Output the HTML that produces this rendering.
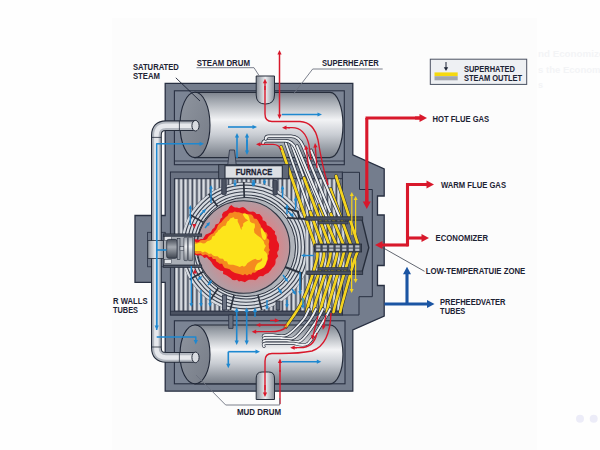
<!DOCTYPE html>
<html><head><meta charset="utf-8"><style>
html,body{margin:0;padding:0;background:#fefefe;}
body{width:600px;height:450px;overflow:hidden;font-family:"Liberation Sans",sans-serif;}
svg{display:block}
</style></head><body>
<svg width="600" height="450" viewBox="0 0 600 450">
<defs>
<linearGradient id="drum" x1="0" y1="0" x2="0" y2="1">
 <stop offset="0" stop-color="#7d838d"/>
 <stop offset="0.1" stop-color="#9aa0a8"/>
 <stop offset="0.42" stop-color="#f2f3f5"/>
 <stop offset="0.65" stop-color="#c9cdd3"/>
 <stop offset="0.9" stop-color="#8e949d"/>
 <stop offset="1" stop-color="#7a808a"/>
</linearGradient>
<linearGradient id="cap" x1="0" y1="0" x2="1" y2="1">
 <stop offset="0" stop-color="#8f959f"/>
 <stop offset="1" stop-color="#767c87"/>
</linearGradient>
<linearGradient id="pipeV" x1="0" y1="0" x2="1" y2="0">
 <stop offset="0" stop-color="#8a909a"/>
 <stop offset="0.5" stop-color="#eceef1"/>
 <stop offset="1" stop-color="#8a909a"/>
</linearGradient>
<linearGradient id="pipeH" x1="0" y1="0" x2="0" y2="1">
 <stop offset="0" stop-color="#9ca2ab"/>
 <stop offset="0.4" stop-color="#eef0f2"/>
 <stop offset="1" stop-color="#80868f"/>
</linearGradient>
<linearGradient id="stripe" x1="0" y1="0" x2="1" y2="0">
 <stop offset="0" stop-color="#b9bec6"/>
 <stop offset="0.5" stop-color="#e4e7eb"/>
 <stop offset="1" stop-color="#b9bec6"/>
</linearGradient>
<radialGradient id="glow" cx="0.55" cy="0.5" r="0.5">
 <stop offset="0" stop-color="#f04a48"/>
 <stop offset="0.6" stop-color="#d8868a"/>
 <stop offset="1" stop-color="#b39ca3"/>
</radialGradient>
<linearGradient id="dcyl" x1="0" y1="0" x2="0" y2="1">
 <stop offset="0" stop-color="#4a505b"/>
 <stop offset="0.4" stop-color="#a4a9b1"/>
 <stop offset="1" stop-color="#3f4550"/>
</linearGradient>
<pattern id="stp" x="175" y="0" width="4.5" height="10" patternUnits="userSpaceOnUse">
 <rect x="0" y="0" width="4.5" height="10" fill="#464d5c"/>
 <rect x="0.2" y="0" width="2.9" height="10" fill="url(#stripe)"/>
</pattern>
<clipPath id="chamber"><rect x="174.4" y="178.7" width="168" height="132.5"/></clipPath>
<clipPath id="fan"><rect x="174.4" y="150" width="198" height="200"/></clipPath>
</defs>
<rect x="112" y="18" width="425" height="432" fill="#fcfcfc"/>
<path d="M165.2,83.3 L352.8,83.3 L352.8,154.8 L384.2,168.8 L384.2,196 L377.5,196 L377.5,215 L384.2,215 L384.2,265.5 L377.5,265.5 L377.5,285.5 L384.2,285.5 L384.2,316.2 L352.8,330 L352.8,391.2 L165.2,391.2 L165.2,282.3 L135,282.3 L135,215.5 L165.2,215.5 Z" fill="#747d8d" stroke="#283042" stroke-width="1.3"/>
<rect x="174.4" y="90.8" width="169.9" height="73.9" fill="#7b8494" stroke="#283042" stroke-width="1.1"/>
<rect x="174.4" y="320.8" width="170.6" height="63" fill="#7b8494" stroke="#283042" stroke-width="1.1"/>
<rect x="147.6" y="232.3" width="17.6" height="34.5" fill="#6e7787" stroke="#283042" stroke-width="0.8"/>
<rect x="170.4" y="172" width="172" height="143" fill="#6a7282" stroke="#283042" stroke-width="1"/>
<path d="M342.4,172.3 L359.5,172.3 L359.5,189.5 L372.3,189.5 L372.3,296.7 L359,296.7 L359,315 L342.4,315 Z" fill="#737c8d" stroke="#283042" stroke-width="1"/>
<rect x="174.4" y="178.7" width="168" height="132.5" fill="url(#stp)" stroke="#283042" stroke-width="1"/>
<rect x="170.4" y="311.2" width="172" height="3.8" fill="#4a5161" stroke="#283042" stroke-width="0.8"/>
<g clip-path="url(#chamber)"><circle cx="246" cy="247" r="65" fill="#3a414f"/><circle cx="246" cy="247" r="63.5" fill="none" stroke="#d6dae0" stroke-width="2.2"/><circle cx="246" cy="247" r="60.2" fill="none" stroke="#d6dae0" stroke-width="2.2"/><circle cx="246" cy="247" r="56.9" fill="none" stroke="#d6dae0" stroke-width="2.2"/><circle cx="246" cy="247" r="53.6" fill="none" stroke="#d6dae0" stroke-width="2.2"/><circle cx="246" cy="247" r="50.3" fill="none" stroke="#d6dae0" stroke-width="2.2"/></g>
<line x1="244.4" y1="200.0" x2="243.7" y2="182.0" stroke="#2a303c" stroke-width="1.7"/>
<line x1="219.0" y1="208.5" x2="208.7" y2="193.8" stroke="#2a303c" stroke-width="1.7"/>
<line x1="234.6" y1="292.6" x2="230.3" y2="310.1" stroke="#2a303c" stroke-width="1.7"/>
<line x1="257.4" y1="292.6" x2="261.7" y2="310.1" stroke="#2a303c" stroke-width="1.7"/>
<line x1="219.7" y1="286.0" x2="209.7" y2="300.9" stroke="#2a303c" stroke-width="1.7"/>
<line x1="205.3" y1="223.5" x2="189.7" y2="214.5" stroke="#2a303c" stroke-width="1.7"/>
<line x1="205.3" y1="270.5" x2="189.7" y2="279.5" stroke="#2a303c" stroke-width="1.7"/>
<circle cx="246" cy="247" r="49.6" fill="#b0b4bb" stroke="#2f3542" stroke-width="1"/>
<circle cx="243.5" cy="247" r="46.3" fill="url(#glow)" stroke="#2f3542" stroke-width="1.1"/>
<rect x="221.7" y="178" width="4.6" height="16.5" rx="1.5" fill="#4b5261" stroke="#283042" stroke-width="0.8"/>
<rect x="222.5" y="295" width="4" height="15" fill="#6b7282" stroke="#283042" stroke-width="0.8"/>
<rect x="273" y="180" width="4.2" height="15" rx="1.5" fill="#4b5261" stroke="#283042" stroke-width="0.8"/>
<path d="M192.1,241.2 L194.1,239.3 L196.3,239.2 L198.6,240.0 L200.8,239.1 L202.9,238.9 L204.3,236.7 L205.7,234.5 L208.4,233.6 L210.9,232.2 L212.2,229.5 L214.5,227.5 L215.5,224.5 L218.6,223.6 L219.9,221.0 L220.4,218.7 L222.4,217.2 L222.0,214.4 L223.6,211.9 L226.5,210.7 L228.2,209.3 L229.2,207.1 L231.3,204.9 L233.0,206.6 L234.9,207.5 L237.0,207.6 L239.1,208.2 L241.0,207.6 L243.0,206.9 L245.1,208.2 L246.8,210.0 L248.9,211.4 L250.9,211.7 L253.0,211.6 L254.9,212.2 L256.5,214.0 L259.5,213.9 L261.3,215.9 L262.5,217.8 L262.6,220.2 L264.8,221.0 L266.3,222.6 L266.9,225.2 L268.9,226.1 L271.2,227.6 L272.8,229.6 L275.1,231.6 L274.8,234.0 L276.4,235.7 L276.8,237.8 L276.8,240.0 L277.8,241.9 L278.8,243.8 L279.1,245.8 L278.8,248.0 L278.7,250.1 L277.2,251.9 L277.3,253.9 L278.2,256.3 L276.7,258.0 L275.5,259.8 L275.6,262.1 L275.2,264.3 L273.9,266.3 L272.1,268.0 L271.0,270.1 L269.5,271.4 L268.3,273.1 L266.3,273.8 L264.6,274.8 L263.1,276.2 L260.7,276.0 L258.7,276.7 L257.2,278.9 L255.2,280.2 L253.1,279.8 L251.0,279.8 L248.9,279.7 L247.0,280.8 L244.9,282.3 L242.9,281.6 L241.0,280.9 L238.9,281.4 L237.0,279.8 L234.9,280.2 L232.5,280.1 L230.8,278.3 L229.0,277.1 L227.2,275.8 L225.3,274.7 L223.1,273.9 L223.1,270.9 L220.5,270.7 L218.5,269.4 L216.4,268.2 L214.4,266.5 L212.7,264.6 L211.5,262.2 L209.8,260.3 L208.2,259.0 L206.9,257.3 L204.2,257.9 L202.9,256.4 L200.9,255.2 L198.6,255.6 L196.4,255.2 L194.2,254.6 L192.1,254.4 L191.7,252.1 L191.5,249.8 L191.6,247.5 L191.9,245.2 L192.8,242.9Z" fill="#e8141f"/>
<path d="M191.9,241.0 L194.1,240.8 L196.5,242.4 L198.7,242.1 L200.6,240.2 L202.8,240.1 L205.0,240.0 L207.1,239.1 L208.1,237.1 L209.6,235.6 L211.2,234.2 L213.3,233.3 L214.4,231.4 L215.9,229.9 L216.9,227.9 L217.8,225.6 L219.2,223.7 L221.3,222.2 L222.8,220.3 L224.4,218.5 L225.9,217.1 L227.6,215.8 L228.6,213.7 L230.0,212.8 L232.3,212.7 L234.7,211.5 L237.0,212.3 L239.0,212.3 L241.0,213.0 L243.0,213.4 L244.6,212.7 L246.5,214.1 L248.8,214.3 L251.3,214.4 L253.0,216.0 L253.9,218.4 L256.7,219.0 L258.2,220.9 L259.1,222.9 L260.4,224.8 L261.1,226.9 L262.8,228.8 L263.8,231.5 L266.6,232.7 L267.6,235.1 L266.9,238.1 L269.2,240.0 L269.2,242.0 L268.7,244.0 L268.9,246.0 L268.9,248.0 L269.9,250.1 L268.6,251.9 L268.9,254.1 L267.5,255.9 L268.2,258.1 L267.8,260.2 L265.8,262.1 L264.9,264.6 L264.3,267.4 L262.3,268.3 L260.3,269.2 L258.2,269.9 L256.7,271.3 L255.0,272.8 L252.6,272.4 L251.2,274.7 L249.1,274.1 L247.0,275.4 L245.0,273.9 L243.0,275.2 L241.0,274.6 L239.1,274.0 L237.1,273.4 L235.0,272.9 L233.1,272.1 L231.5,270.9 L229.6,269.3 L227.2,268.5 L224.7,267.9 L223.1,265.9 L222.2,263.7 L219.6,263.8 L218.1,262.5 L216.3,261.6 L215.5,259.0 L212.9,259.1 L211.6,256.8 L209.0,256.9 L207.2,255.1 L205.1,254.6 L202.6,255.5 L200.8,253.4 L198.5,253.8 L196.2,254.1 L194.3,252.3 L193.0,252.8 L191.6,250.6 L192.6,248.3 L191.9,246.1 L193.4,243.8Z" fill="#f58a1f"/>
<path d="M192.2,244.5 L194.3,243.6 L196.5,243.7 L198.5,242.9 L200.7,242.6 L203.0,243.4 L205.1,243.2 L207.2,241.2 L209.7,240.6 L211.5,239.2 L212.3,236.5 L214.9,235.6 L215.5,233.4 L217.4,232.1 L218.3,230.2 L219.8,229.5 L221.3,227.7 L223.1,226.2 L225.9,225.4 L226.5,223.2 L227.6,221.3 L228.8,220.7 L230.2,218.4 L232.4,217.7 L233.2,217.1 L234.8,219.1 L237.7,219.1 L237.7,221.6 L238.8,223.8 L239.8,226.1 L240.5,228.3 L241.9,229.9 L241.6,227.6 L243.1,225.9 L243.2,223.6 L245.1,222.1 L247.6,220.7 L248.7,220.3 L250.3,221.7 L251.9,223.1 L254.5,223.5 L254.9,224.8 L254.9,227.2 L253.9,229.5 L254.4,232.8 L256.3,234.5 L258.1,235.9 L260.4,237.6 L262.2,239.3 L263.8,241.4 L264.4,243.9 L265.9,245.9 L264.7,247.9 L264.0,250.0 L263.9,252.6 L263.8,253.8 L263.3,256.3 L261.9,257.9 L260.4,259.4 L259.1,260.1 L257.1,260.1 L255.3,258.8 L252.8,259.8 L250.7,261.1 L248.7,262.3 L247.3,263.3 L245.9,265.6 L244.0,266.7 L242.2,265.8 L239.7,267.0 L237.4,266.0 L235.6,265.4 L233.2,264.8 L230.5,264.8 L228.1,264.2 L227.1,261.5 L224.4,261.1 L223.0,258.8 L219.8,258.4 L217.6,256.2 L215.1,256.2 L213.0,255.4 L211.1,253.4 L208.9,254.1 L207.0,252.4 L204.9,251.6 L202.7,252.4 L200.7,250.9 L198.6,250.9 L196.4,251.1 L194.2,251.1 L193.7,251.6 L193.9,249.4 L192.3,247.3 L193.4,245.2Z" fill="#fde51b"/>
<path d="M261.0,250.0 C261.8,249.0 266.2,251.7 267.0,254.0 C267.8,256.3 267.0,261.5 266.0,264.0 C265.0,266.5 262.8,268.0 261.0,269.0 C259.2,270.0 255.7,270.8 255.0,270.0 C254.3,269.2 255.8,265.7 257.0,264.0 C258.2,262.3 261.3,262.3 262.0,260.0 C262.7,257.7 260.2,251.0 261.0,250.0Z" fill="#fde51b"/>
<path d="M243.0,214.0 C243.5,213.5 246.8,213.7 248.0,215.0 C249.2,216.3 250.1,221.2 250.0,222.0 C249.9,222.8 248.2,220.7 247.4,220.0 C246.6,219.3 245.7,219.0 245.0,218.0 C244.3,217.0 242.5,214.5 243.0,214.0Z" fill="#fde51b"/>
<path d="M261.0,228.0 C261.7,227.7 265.3,233.0 266.0,235.0 C266.7,237.0 265.7,239.7 265.0,240.0 C264.3,240.3 262.7,239.0 262.0,237.0 C261.3,235.0 260.3,228.3 261.0,228.0Z" fill="#fde51b"/>
<rect x="163.3" y="233.9" width="38.4" height="2.4" fill="#4f5665" stroke="#262d3b" stroke-width="0.7"/>
<rect x="163.3" y="265" width="38.4" height="2.6" fill="#4f5665" stroke="#262d3b" stroke-width="0.7"/>
<rect x="163.3" y="236.2" width="31" height="28.8" fill="#a9aeb6" stroke="#262d3b" stroke-width="0.8"/>
<rect x="164.4" y="236.6" width="7.3" height="4" fill="#e3e6ea" stroke="#262d3b" stroke-width="0.5"/>
<rect x="164.4" y="259.4" width="7.3" height="4" fill="#e3e6ea" stroke="#262d3b" stroke-width="0.5"/>
<rect x="166.7" y="239.4" width="10.5" height="18.9" rx="2" fill="url(#dcyl)" stroke="#262d3b" stroke-width="0.8"/>
<rect x="177.2" y="238.5" width="2.8" height="21" fill="#9aa0aa" stroke="#262d3b" stroke-width="0.6"/>
<rect x="180" y="246.7" width="4" height="4" fill="#c9cdd3" stroke="#262d3b" stroke-width="0.5"/>
<rect x="183.9" y="237.2" width="3.8" height="23.4" rx="1" fill="url(#pipeH)" stroke="#262d3b" stroke-width="0.6"/>
<rect x="188.2" y="237.2" width="4.6" height="23.4" rx="1" fill="url(#pipeH)" stroke="#262d3b" stroke-width="0.6"/>
<path d="M195,92.3 L330,92.3 A13,32.65 0 0 1 330,157.6 L195,157.6 Z" fill="url(#drum)" stroke="#262d3b" stroke-width="1.2"/>
<ellipse cx="195" cy="124.94999999999999" rx="15" ry="32.65" fill="url(#cap)" stroke="#1f2636" stroke-width="1.1"/>
<path d="M195,325 L330,325 A13,29.400000000000006 0 0 1 330,383.8 L195,383.8 Z" fill="url(#drum)" stroke="#262d3b" stroke-width="1.2"/>
<ellipse cx="195" cy="354.4" rx="15" ry="29.400000000000006" fill="url(#cap)" stroke="#1f2636" stroke-width="1.1"/>
<path d="M256.2,76 L274.5,76 L274.5,95 Q274.5,104 265.35,104 Q256.2,104 256.2,95 Z" fill="url(#pipeV)" stroke="#262d3b" stroke-width="1"/>
<path d="M256.2,378 Q256.2,372 262,372 L268.7,372 Q274.5,372 274.5,378 L274.5,399.5 L256.2,399.5 Z" fill="url(#pipeV)" stroke="#262d3b" stroke-width="1"/>
<path d="M228.7,315 L233,315 L233,328.4 L228.7,328.4 Z" fill="#6a7282" stroke="#283042" stroke-width="0.8"/>
<line x1="174.4" y1="161" x2="344.3" y2="161" stroke="#283042" stroke-width="0.9"/>
<path d="M227.7,165.5 L229.5,150 L234.5,150 L236.3,165.5 Z" fill="#7d8391" stroke="#283042" stroke-width="0.8"/>
<path d="M305.7,218.3 L361.7,218.3 L368.8,247.7 L361.7,273.4 L305.7,273.4 Z" fill="#626a7a"/>
<rect x="305.7" y="218.3" width="40" height="55" fill="url(#stp)"/>
<g><path d="M281,147 L316.0,248" stroke="#262d3b" stroke-width="3.8" fill="none" stroke-linejoin="round" stroke-linecap="round"/><path d="M281,147 L316.0,248" stroke="#f4d31f" stroke-width="2.7" fill="none" stroke-linejoin="round" stroke-linecap="round"/></g>
<g><path d="M285.7,143 L310.3,212.0" stroke="#262d3b" stroke-width="3.4" fill="none" stroke-linejoin="round" stroke-linecap="round"/><path d="M285.7,143 L310.3,212.0" stroke="#eceef1" stroke-width="2.0" fill="none" stroke-linejoin="round" stroke-linecap="round"/></g>
<g><path d="M310.3,212.0 L323.2,248" stroke="#262d3b" stroke-width="3.8" fill="none" stroke-linejoin="round" stroke-linecap="round"/><path d="M310.3,212.0 L323.2,248" stroke="#f4d31f" stroke-width="2.7" fill="none" stroke-linejoin="round" stroke-linecap="round"/></g>
<g><path d="M291,143 L304.1,178.0" stroke="#262d3b" stroke-width="3.4" fill="none" stroke-linejoin="round" stroke-linecap="round"/><path d="M291,143 L304.1,178.0" stroke="#eceef1" stroke-width="2.0" fill="none" stroke-linejoin="round" stroke-linecap="round"/></g>
<g><path d="M304.1,178.0 L330.4,248" stroke="#262d3b" stroke-width="3.8" fill="none" stroke-linejoin="round" stroke-linecap="round"/><path d="M304.1,178.0 L330.4,248" stroke="#f4d31f" stroke-width="2.7" fill="none" stroke-linejoin="round" stroke-linecap="round"/></g>
<g><path d="M263,143.5 Q263,140.7 266,140.7 L285,140.7 Q292,140.7 296,149 L319.5,205.0" stroke="#262d3b" stroke-width="3.4" fill="none" stroke-linejoin="round" stroke-linecap="round"/><path d="M263,143.5 Q263,140.7 266,140.7 L285,140.7 Q292,140.7 296,149 L319.5,205.0" stroke="#eceef1" stroke-width="2.0" fill="none" stroke-linejoin="round" stroke-linecap="round"/></g>
<g><path d="M319.5,205.0 L337.6,248" stroke="#262d3b" stroke-width="3.8" fill="none" stroke-linejoin="round" stroke-linecap="round"/><path d="M319.5,205.0 L337.6,248" stroke="#f4d31f" stroke-width="2.7" fill="none" stroke-linejoin="round" stroke-linecap="round"/></g>
<g><path d="M265.7,139 Q265.7,136.3 268.7,136.3 L291,136.3 Q299,136.3 303,146 L330.9,214.0" stroke="#262d3b" stroke-width="3.4" fill="none" stroke-linejoin="round" stroke-linecap="round"/><path d="M265.7,139 Q265.7,136.3 268.7,136.3 L291,136.3 Q299,136.3 303,146 L330.9,214.0" stroke="#eceef1" stroke-width="2.0" fill="none" stroke-linejoin="round" stroke-linecap="round"/></g>
<g><path d="M330.9,214.0 L344.8,248" stroke="#262d3b" stroke-width="3.8" fill="none" stroke-linejoin="round" stroke-linecap="round"/><path d="M330.9,214.0 L344.8,248" stroke="#f4d31f" stroke-width="2.7" fill="none" stroke-linejoin="round" stroke-linecap="round"/></g>
<g><path d="M330.5,189 L352.0,248" stroke="#262d3b" stroke-width="3.8" fill="none" stroke-linejoin="round" stroke-linecap="round"/><path d="M330.5,189 L352.0,248" stroke="#f4d31f" stroke-width="2.7" fill="none" stroke-linejoin="round" stroke-linecap="round"/></g>
<g><path d="M336,176 L359.2,248" stroke="#262d3b" stroke-width="3.8" fill="none" stroke-linejoin="round" stroke-linecap="round"/><path d="M336,176 L359.2,248" stroke="#f4d31f" stroke-width="2.7" fill="none" stroke-linejoin="round" stroke-linecap="round"/></g>
<g><path d="M297,146 L327,218" stroke="#262d3b" stroke-width="3.4" fill="none" stroke-linejoin="round" stroke-linecap="round"/><path d="M297,146 L327,218" stroke="#eceef1" stroke-width="2.0" fill="none" stroke-linejoin="round" stroke-linecap="round"/></g>
<g><path d="M311,150.3 L340,218" stroke="#262d3b" stroke-width="3.4" fill="none" stroke-linejoin="round" stroke-linecap="round"/><path d="M311,150.3 L340,218" stroke="#eceef1" stroke-width="2.0" fill="none" stroke-linejoin="round" stroke-linecap="round"/></g>
<g><path d="M316.0,248.0 C316.1,250.0 318.9,251.3 316.7,260.0 C314.5,268.7 308.2,288.8 303.0,300.0 C297.8,311.2 288.6,322.5 285.7,327.0" stroke="#262d3b" stroke-width="3.8" fill="none" stroke-linejoin="round" stroke-linecap="round"/><path d="M316.0,248.0 C316.1,250.0 318.9,251.3 316.7,260.0 C314.5,268.7 308.2,288.8 303.0,300.0 C297.8,311.2 288.6,322.5 285.7,327.0" stroke="#f4d31f" stroke-width="2.7" fill="none" stroke-linejoin="round" stroke-linecap="round"/></g>
<g><path d="M323.2,248.0 C323.2,250.0 325.2,251.3 323.0,260.0 C320.8,268.7 312.4,291.3 309.7,300.0 C307.0,308.7 307.2,310.0 306.7,312.0" stroke="#262d3b" stroke-width="3.8" fill="none" stroke-linejoin="round" stroke-linecap="round"/><path d="M323.2,248.0 C323.2,250.0 325.2,251.3 323.0,260.0 C320.8,268.7 312.4,291.3 309.7,300.0 C307.0,308.7 307.2,310.0 306.7,312.0" stroke="#f4d31f" stroke-width="2.7" fill="none" stroke-linejoin="round" stroke-linecap="round"/></g>
<g><path d="M330.4,248.0 C330.2,250.0 331.6,251.3 329.3,260.0 C327.0,268.7 319.0,291.3 316.4,300.0 C313.8,308.7 313.9,310.0 313.4,312.0" stroke="#262d3b" stroke-width="3.8" fill="none" stroke-linejoin="round" stroke-linecap="round"/><path d="M330.4,248.0 C330.2,250.0 331.6,251.3 329.3,260.0 C327.0,268.7 319.0,291.3 316.4,300.0 C313.8,308.7 313.9,310.0 313.4,312.0" stroke="#f4d31f" stroke-width="2.7" fill="none" stroke-linejoin="round" stroke-linecap="round"/></g>
<g><path d="M337.6,248.0 C337.3,250.0 338.0,251.3 335.6,260.0 C333.2,268.7 325.7,291.3 323.1,300.0 C320.5,308.7 320.6,310.0 320.1,312.0" stroke="#262d3b" stroke-width="3.8" fill="none" stroke-linejoin="round" stroke-linecap="round"/><path d="M337.6,248.0 C337.3,250.0 338.0,251.3 335.6,260.0 C333.2,268.7 325.7,291.3 323.1,300.0 C320.5,308.7 320.6,310.0 320.1,312.0" stroke="#f4d31f" stroke-width="2.7" fill="none" stroke-linejoin="round" stroke-linecap="round"/></g>
<g><path d="M344.8,248.0 C344.3,250.0 344.4,251.3 341.9,260.0 C339.4,268.7 332.3,291.3 329.8,300.0 C327.3,308.7 327.3,310.0 326.8,312.0" stroke="#262d3b" stroke-width="3.8" fill="none" stroke-linejoin="round" stroke-linecap="round"/><path d="M344.8,248.0 C344.3,250.0 344.4,251.3 341.9,260.0 C339.4,268.7 332.3,291.3 329.8,300.0 C327.3,308.7 327.3,310.0 326.8,312.0" stroke="#f4d31f" stroke-width="2.7" fill="none" stroke-linejoin="round" stroke-linecap="round"/></g>
<g><path d="M352.0,248.0 C351.4,250.0 350.8,251.3 348.2,260.0 C345.6,268.7 338.9,291.3 336.5,300.0 C334.1,308.7 334.0,310.0 333.5,312.0" stroke="#262d3b" stroke-width="3.8" fill="none" stroke-linejoin="round" stroke-linecap="round"/><path d="M352.0,248.0 C351.4,250.0 350.8,251.3 348.2,260.0 C345.6,268.7 338.9,291.3 336.5,300.0 C334.1,308.7 334.0,310.0 333.5,312.0" stroke="#f4d31f" stroke-width="2.7" fill="none" stroke-linejoin="round" stroke-linecap="round"/></g>
<g><path d="M359.2,248.0 C358.4,250.0 357.2,251.3 354.5,260.0 C351.8,268.7 345.6,291.3 343.2,300.0 C340.8,308.7 340.7,310.0 340.2,312.0" stroke="#262d3b" stroke-width="3.8" fill="none" stroke-linejoin="round" stroke-linecap="round"/><path d="M359.2,248.0 C358.4,250.0 357.2,251.3 354.5,260.0 C351.8,268.7 345.6,291.3 343.2,300.0 C340.8,308.7 340.7,310.0 340.2,312.0" stroke="#f4d31f" stroke-width="2.7" fill="none" stroke-linejoin="round" stroke-linecap="round"/></g>
<g><path d="M309.0,309.0 C308.0,310.8 306.7,315.7 303.0,320.0 C299.3,324.3 292.0,332.5 287.0,335.0 C282.0,337.5 275.3,335.0 273.0,335.0 L266,335.0 Q262,335.0 264,338.0" stroke="#262d3b" stroke-width="3.2" fill="none" stroke-linejoin="round" stroke-linecap="round"/><path d="M309.0,309.0 C308.0,310.8 306.7,315.7 303.0,320.0 C299.3,324.3 292.0,332.5 287.0,335.0 C282.0,337.5 275.3,335.0 273.0,335.0 L266,335.0 Q262,335.0 264,338.0" stroke="#eceef1" stroke-width="1.9" fill="none" stroke-linejoin="round" stroke-linecap="round"/></g>
<g><path d="M316.0,309.0 C315.0,310.8 313.7,315.2 310.0,320.0 C306.3,324.8 299.0,334.8 294.0,337.8 C289.0,340.8 282.3,337.8 280.0,337.8 L266,337.8 Q262,337.8 264,340.8" stroke="#262d3b" stroke-width="3.2" fill="none" stroke-linejoin="round" stroke-linecap="round"/><path d="M316.0,309.0 C315.0,310.8 313.7,315.2 310.0,320.0 C306.3,324.8 299.0,334.8 294.0,337.8 C289.0,340.8 282.3,337.8 280.0,337.8 L266,337.8 Q262,337.8 264,340.8" stroke="#eceef1" stroke-width="1.9" fill="none" stroke-linejoin="round" stroke-linecap="round"/></g>
<g><path d="M323.0,309.0 C322.0,310.8 320.7,314.7 317.0,320.0 C313.3,325.3 306.0,337.2 301.0,340.6 C296.0,344.0 289.3,340.6 287.0,340.6 L266,340.6 Q262,340.6 264,343.6" stroke="#262d3b" stroke-width="3.2" fill="none" stroke-linejoin="round" stroke-linecap="round"/><path d="M323.0,309.0 C322.0,310.8 320.7,314.7 317.0,320.0 C313.3,325.3 306.0,337.2 301.0,340.6 C296.0,344.0 289.3,340.6 287.0,340.6 L266,340.6 Q262,340.6 264,343.6" stroke="#eceef1" stroke-width="1.9" fill="none" stroke-linejoin="round" stroke-linecap="round"/></g>
<g><path d="M330.0,309.0 C329.0,310.8 327.7,314.3 324.0,320.0 C320.3,325.7 313.0,339.5 308.0,343.4 C303.0,347.3 296.3,343.4 294.0,343.4 L266,343.4 Q262,343.4 264,346.4" stroke="#262d3b" stroke-width="3.2" fill="none" stroke-linejoin="round" stroke-linecap="round"/><path d="M330.0,309.0 C329.0,310.8 327.7,314.3 324.0,320.0 C320.3,325.7 313.0,339.5 308.0,343.4 C303.0,347.3 296.3,343.4 294.0,343.4 L266,343.4 Q262,343.4 264,346.4" stroke="#eceef1" stroke-width="1.9" fill="none" stroke-linejoin="round" stroke-linecap="round"/></g>
<path d="M361.7,218.3 L368.8,247.7 L361.7,273.4" fill="none" stroke="#262d3b" stroke-width="1.4"/>
<rect x="305.7" y="216.8" width="57" height="3.4" fill="#4a5161" stroke="#262d3b" stroke-width="0.8"/>
<rect x="318" y="221.3" width="30" height="2.6" fill="#4a5161" stroke="#262d3b" stroke-width="0.6"/>
<rect x="306.7" y="271" width="56" height="3.4" fill="#4a5161" stroke="#262d3b" stroke-width="0.8"/>
<rect x="318" y="267.5" width="30" height="2.6" fill="#4a5161" stroke="#262d3b" stroke-width="0.6"/>
<rect x="314.6" y="244" width="47" height="8" fill="#3e4553" stroke="#262d3b" stroke-width="0.8"/>
<rect x="316.2" y="245.3" width="4.2" height="2.3" fill="#b9bec6"/>
<rect x="316.2" y="248.6" width="4.2" height="2.3" fill="#b9bec6"/>
<rect x="322.7" y="245.3" width="4.2" height="2.3" fill="#b9bec6"/>
<rect x="322.7" y="248.6" width="4.2" height="2.3" fill="#b9bec6"/>
<rect x="329.2" y="245.3" width="4.2" height="2.3" fill="#b9bec6"/>
<rect x="329.2" y="248.6" width="4.2" height="2.3" fill="#b9bec6"/>
<rect x="335.7" y="245.3" width="4.2" height="2.3" fill="#b9bec6"/>
<rect x="335.7" y="248.6" width="4.2" height="2.3" fill="#b9bec6"/>
<rect x="342.2" y="245.3" width="4.2" height="2.3" fill="#b9bec6"/>
<rect x="342.2" y="248.6" width="4.2" height="2.3" fill="#b9bec6"/>
<rect x="348.7" y="245.3" width="4.2" height="2.3" fill="#b9bec6"/>
<rect x="348.7" y="248.6" width="4.2" height="2.3" fill="#b9bec6"/>
<rect x="355.2" y="245.3" width="4.2" height="2.3" fill="#b9bec6"/>
<rect x="355.2" y="248.6" width="4.2" height="2.3" fill="#b9bec6"/>
<path d="M196,125.7 L166,125.7 Q156.4,125.7 156.4,135.3 L156.4,347.8 Q156.4,357.4 166,357.4 L196,357.4" fill="none" stroke="#262d3b" stroke-width="10.8"/>
<path d="M196,125.7 L166,125.7 Q156.4,125.7 156.4,135.3 L156.4,347.8 Q156.4,357.4 166,357.4 L196,357.4" fill="none" stroke="#b3b8c0" stroke-width="8.6"/>
<path d="M196,125.7 L166,125.7 Q156.4,125.7 156.4,135.3 L156.4,347.8 Q156.4,357.4 166,357.4 L196,357.4" fill="none" stroke="#e6e8ec" stroke-width="4.5"/>
<path d="M156.4,135.3 L156.4,347.8" fill="none" stroke="url(#pipeV)" stroke-width="8.6"/>
<line x1="151.5" y1="137.4" x2="161.3" y2="137.4" stroke="#262d3b" stroke-width="0.8"/>
<line x1="179.4" y1="121" x2="179.4" y2="130.4" stroke="#262d3b" stroke-width="0.8"/>
<line x1="179.4" y1="352.8" x2="179.4" y2="362.1" stroke="#262d3b" stroke-width="0.8"/>
<line x1="151.5" y1="347" x2="161.3" y2="347" stroke="#262d3b" stroke-width="0.8"/>
<ellipse cx="195.5" cy="125.7" rx="3.6" ry="5.3" fill="#d8dbe0" stroke="#262d3b" stroke-width="1"/>
<ellipse cx="195.5" cy="357.4" rx="3.6" ry="5.3" fill="#d8dbe0" stroke="#262d3b" stroke-width="1"/>
<rect x="147.8" y="240.6" width="15.6" height="17.8" fill="url(#pipeV)" stroke="#262d3b" stroke-width="0.8"/>
<path d="M279.5,115.4 L279.5,53.6" fill="none" stroke="#d8182b" stroke-width="1.5" stroke-linejoin="round"/>
<path d="M279.5,50.0 L281.6,54.5 L277.4,54.5 Z" fill="#d8182b"/>
<path d="M279.5,119.0 L277.4,114.5 L281.6,114.5 Z" fill="#d8182b"/>
<path d="M328,185 Q322,165 318,140 Q314,122 300,121.5 L272,121.5 Q265,121.5 265,114 L265,86" fill="none" stroke="#d8182b" stroke-width="1.4"/>
<path d="M265.0,90.0 L265.0,82.3" fill="none" stroke="#d8182b" stroke-width="1.4" stroke-linejoin="round"/>
<path d="M265.0,78.7 L267.1,83.2 L262.9,83.2 Z" fill="#d8182b"/>
<path d="M311,160 L309,145 Q305,127.7 292,127.7 L288,127.7" fill="none" stroke="#d8182b" stroke-width="1.3"/>
<path d="M290.0,127.7 L285.6,127.7" fill="none" stroke="#d8182b" stroke-width="1.4" stroke-linejoin="round"/>
<path d="M282.0,127.7 L286.5,125.6 L286.5,129.8 Z" fill="#d8182b"/>
<path d="M309.0,170.0 L306.2,148.6" fill="none" stroke="#d8182b" stroke-width="1.3" stroke-linejoin="round"/>
<path d="M305.7,145.0 L308.4,149.2 L304.2,149.7 Z" fill="#d8182b"/>
<path d="M317.0,168.0 L315.3,146.6" fill="none" stroke="#d8182b" stroke-width="1.3" stroke-linejoin="round"/>
<path d="M315.0,143.0 L317.5,147.3 L313.3,147.7 Z" fill="#d8182b"/>
<path d="M281,150 Q279,144.3 273,144.3 L262,144.3" fill="none" stroke="#d8182b" stroke-width="1.3"/>
<path d="M262.0,144.3 L259.6,144.3" fill="none" stroke="#d8182b" stroke-width="1.4" stroke-linejoin="round"/>
<path d="M256.0,144.3 L260.5,142.2 L260.5,146.4 Z" fill="#d8182b"/>
<path d="M331,313 Q330,345 312,351 Q300,353.5 280,353.5 L272,353.5 Q265,353.5 265,361 L265,390" fill="none" stroke="#d8182b" stroke-width="1.4"/>
<path d="M265.0,385.0 L265.0,393.4" fill="none" stroke="#d8182b" stroke-width="1.4" stroke-linejoin="round"/>
<path d="M265.0,397.0 L262.9,392.5 L267.1,392.5 Z" fill="#d8182b"/>
<path d="M280,404 L280,370" fill="none" stroke="#d8182b" stroke-width="1.4"/>
<path d="M280.0,372.0 L280.0,362.1" fill="none" stroke="#d8182b" stroke-width="1.5" stroke-linejoin="round"/>
<path d="M280.0,358.5 L282.1,363.0 L277.9,363.0 Z" fill="#d8182b"/>
<path d="M317,333 Q314,347.7 300,347.7 L295,347.7" fill="none" stroke="#d8182b" stroke-width="1.3"/>
<path d="M297.0,347.7 L293.8,347.7" fill="none" stroke="#d8182b" stroke-width="1.4" stroke-linejoin="round"/>
<path d="M290.2,347.7 L294.7,345.6 L294.7,349.8 Z" fill="#d8182b"/>
<path d="M318.0,316.0 L312.9,336.4" fill="none" stroke="#d8182b" stroke-width="1.3" stroke-linejoin="round"/>
<path d="M312.0,339.9 L311.1,335.0 L315.1,336.0 Z" fill="#d8182b"/>
<path d="M326.0,315.0 L323.6,326.3" fill="none" stroke="#d8182b" stroke-width="1.3" stroke-linejoin="round"/>
<path d="M322.9,329.8 L321.8,325.0 L325.9,325.8 Z" fill="#d8182b"/>
<path d="M270.0,320.4 L275.7,320.4" fill="none" stroke="#d8182b" stroke-width="1.3" stroke-linejoin="round"/>
<path d="M279.3,320.4 L274.8,322.5 L274.8,318.3 Z" fill="#d8182b"/>
<path d="M286.7,325.0 L259.4,325.0" fill="none" stroke="#d8182b" stroke-width="1.3" stroke-linejoin="round"/>
<path d="M255.8,325.0 L260.3,322.9 L260.3,327.1 Z" fill="#d8182b"/>
<path d="M286.7,326.7 Q282,331.7 270,331.7 L258,331.7" fill="none" stroke="#d8182b" stroke-width="1.3"/>
<path d="M258.0,331.7 L255.3,331.7" fill="none" stroke="#d8182b" stroke-width="1.3" stroke-linejoin="round"/>
<path d="M251.7,331.7 L256.2,329.6 L256.2,333.8 Z" fill="#d8182b"/>
<path d="M366.8,118 L366.8,202" fill="none" stroke="#d8182b" stroke-width="3.1"/>
<path d="M366.8,190.0 L366.8,203.0" fill="none" stroke="#d8182b" stroke-width="3.1" stroke-linejoin="round"/>
<path d="M366.8,209.0 L362.8,201.5 L370.8,201.5 Z" fill="#d8182b"/>
<path d="M365.5,118 L420,118" fill="none" stroke="#d8182b" stroke-width="3.1"/>
<path d="M415.0,118.0 L421.0,118.0" fill="none" stroke="#d8182b" stroke-width="3.1" stroke-linejoin="round"/>
<path d="M427.0,118.0 L419.5,122.0 L419.5,114.0 Z" fill="#d8182b"/>
<path d="M407.5,246.3 L407.5,184.5 L428,184.5" fill="none" stroke="#d8182b" stroke-width="3.1"/>
<path d="M425.0,184.5 L428.0,184.5" fill="none" stroke="#d8182b" stroke-width="3.1" stroke-linejoin="round"/>
<path d="M434.0,184.5 L426.5,188.5 L426.5,180.5 Z" fill="#d8182b"/>
<path d="M407.0,238.0 L423.0,238.0" fill="none" stroke="#d8182b" stroke-width="3.1" stroke-linejoin="round"/>
<path d="M429.0,238.0 L421.5,242.0 L421.5,234.0 Z" fill="#d8182b"/>
<path d="M408.5,245.0 L381.0,245.0" fill="none" stroke="#d8182b" stroke-width="3.1" stroke-linejoin="round"/>
<path d="M375.0,245.0 L382.5,241.0 L382.5,249.0 Z" fill="#d8182b"/>
<path d="M384.5,304.0 L428.5,304.0" fill="none" stroke="#1b55a3" stroke-width="3.1" stroke-linejoin="round"/>
<path d="M434.5,304.0 L427.0,308.0 L427.0,300.0 Z" fill="#1b55a3"/>
<path d="M407.0,304.0 L407.0,272.7" fill="none" stroke="#1b55a3" stroke-width="3.1" stroke-linejoin="round"/>
<path d="M407.0,266.7 L411.0,274.2 L403.0,274.2 Z" fill="#1b55a3"/>
<path d="M282.0,114.5 L318.4,114.5" fill="none" stroke="#1e88d0" stroke-width="1.6" stroke-linejoin="round"/>
<path d="M322.0,114.5 L317.5,116.6 L317.5,112.4 Z" fill="#1e88d0"/>
<path d="M228.0,127.0 L253.4,127.0" fill="none" stroke="#1e88d0" stroke-width="1.6" stroke-linejoin="round"/>
<path d="M257.0,127.0 L252.5,129.1 L252.5,124.9 Z" fill="#1e88d0"/>
<path d="M237.0,158.0 L237.0,136.6" fill="none" stroke="#1e88d0" stroke-width="1.6" stroke-linejoin="round"/>
<path d="M237.0,133.0 L239.1,137.5 L234.9,137.5 Z" fill="#1e88d0"/>
<path d="M247.0,152.0 L247.0,136.6" fill="none" stroke="#1e88d0" stroke-width="1.6" stroke-linejoin="round"/>
<path d="M247.0,133.0 L249.1,137.5 L244.9,137.5 Z" fill="#1e88d0"/>
<path d="M247.0,140.0 L247.0,151.4" fill="none" stroke="#1e88d0" stroke-width="1.6" stroke-linejoin="round"/>
<path d="M247.0,155.0 L244.9,150.5 L249.1,150.5 Z" fill="#1e88d0"/>
<path d="M156.7,330.0 L156.7,143.8 L200.4,143.8" fill="none" stroke="#1e88d0" stroke-width="1.5" stroke-linejoin="round"/>
<path d="M204.0,143.8 L199.5,145.9 L199.5,141.7 Z" fill="#1e88d0"/>
<path d="M156.7,200.0 L156.7,326.4" fill="none" stroke="#1e88d0" stroke-width="1.5" stroke-linejoin="round"/>
<path d="M156.7,330.0 L154.6,325.5 L158.8,325.5 Z" fill="#1e88d0"/>
<path d="M156.7,337.0 L195.8,337.0 L195.8,341.0" fill="none" stroke="#1e88d0" stroke-width="1.5" stroke-linejoin="round"/>
<path d="M195.8,344.6 L193.7,340.1 L197.9,340.1 Z" fill="#1e88d0"/>
<path d="M156.7,250 L166.5,250" fill="none" stroke="#1e88d0" stroke-width="1.6"/>
<path d="M236.7,326.0 L236.7,311.1" fill="none" stroke="#1e88d0" stroke-width="1.6" stroke-linejoin="round"/>
<path d="M236.7,307.5 L238.8,312.0 L234.6,312.0 Z" fill="#1e88d0"/>
<path d="M236.7,326.0 L236.7,341.4" fill="none" stroke="#1e88d0" stroke-width="1.6" stroke-linejoin="round"/>
<path d="M236.7,345.0 L234.6,340.5 L238.8,340.5 Z" fill="#1e88d0"/>
<path d="M246.7,326.0 L246.7,311.1" fill="none" stroke="#1e88d0" stroke-width="1.6" stroke-linejoin="round"/>
<path d="M246.7,307.5 L248.8,312.0 L244.6,312.0 Z" fill="#1e88d0"/>
<path d="M246.7,326.0 L246.7,341.4" fill="none" stroke="#1e88d0" stroke-width="1.6" stroke-linejoin="round"/>
<path d="M246.7,345.0 L244.6,340.5 L248.8,340.5 Z" fill="#1e88d0"/>
<path d="M255.0,317.0 L255.0,311.1" fill="none" stroke="#1e88d0" stroke-width="1.4" stroke-linejoin="round"/>
<path d="M255.0,307.5 L257.1,312.0 L252.9,312.0 Z" fill="#1e88d0"/>
<path d="M228.3,351.7 L256.4,351.7" fill="none" stroke="#1e88d0" stroke-width="1.6" stroke-linejoin="round"/>
<path d="M260.0,351.7 L255.5,353.8 L255.5,349.6 Z" fill="#1e88d0"/>
<path d="M228.3,351.7 L228.3,364.7" fill="none" stroke="#1e88d0" stroke-width="1.6" stroke-linejoin="round"/>
<path d="M228.3,368.3 L226.2,363.8 L230.4,363.8 Z" fill="#1e88d0"/>
<path d="M281.7,361.7 L317.7,361.7" fill="none" stroke="#1e88d0" stroke-width="1.6" stroke-linejoin="round"/>
<path d="M321.3,361.7 L316.8,363.8 L316.8,359.6 Z" fill="#1e88d0"/>
<path d="M191.3,266.0 L191.3,304.0" fill="none" stroke="#1e88d0" stroke-width="1.4" stroke-linejoin="round"/>
<path d="M191.3,307.0 L189.5,303.2 L193.1,303.2 Z" fill="#1e88d0"/>
<path d="M201.0,290.0 L201.0,304.0" fill="none" stroke="#1e88d0" stroke-width="1.4" stroke-linejoin="round"/>
<path d="M201.0,307.0 L199.2,303.2 L202.8,303.2 Z" fill="#1e88d0"/>
<path d="M210.0,290.0 L210.0,304.0" fill="none" stroke="#1e88d0" stroke-width="1.4" stroke-linejoin="round"/>
<path d="M210.0,307.0 L208.2,303.2 L211.8,303.2 Z" fill="#1e88d0"/>
<path d="M211.0,203.0 L211.0,188.0" fill="none" stroke="#1e88d0" stroke-width="1.4" stroke-linejoin="round"/>
<path d="M211.0,185.0 L212.8,188.8 L209.2,188.8 Z" fill="#1e88d0"/>
<path d="M190.3,225.0 L190.3,208.0" fill="none" stroke="#1e88d0" stroke-width="1.4" stroke-linejoin="round"/>
<path d="M190.3,205.0 L192.1,208.8 L188.5,208.8 Z" fill="#1e88d0"/>
<path d="M235.0,180.0 L235.0,184.0" fill="none" stroke="#1e88d0" stroke-width="1.4" stroke-linejoin="round"/>
<path d="M235.0,187.0 L233.2,183.2 L236.8,183.2 Z" fill="#1e88d0"/>
<path d="M253.0,180.0 L253.0,184.0" fill="none" stroke="#1e88d0" stroke-width="1.4" stroke-linejoin="round"/>
<path d="M253.0,187.0 L251.2,183.2 L254.8,183.2 Z" fill="#1e88d0"/>
<path d="M254.0,180.0 L254.0,183.5" fill="none" stroke="#1e88d0" stroke-width="1.4" stroke-linejoin="round"/>
<path d="M254.0,186.5 L252.2,182.7 L255.8,182.7 Z" fill="#1e88d0"/>
<path d="M200.0,215.0 L203.9,211.1" fill="none" stroke="#1e88d0" stroke-width="1.4" stroke-linejoin="round"/>
<path d="M206.0,209.0 L204.6,213.0 L202.0,210.4 Z" fill="#1e88d0"/>
<path d="M205.0,228.0 L208.1,224.3" fill="none" stroke="#1e88d0" stroke-width="1.4" stroke-linejoin="round"/>
<path d="M210.0,222.0 L209.0,226.1 L206.2,223.8 Z" fill="#1e88d0"/>
<path d="M198.0,280.0 L199.9,278.1" fill="none" stroke="#1e88d0" stroke-width="1.4" stroke-linejoin="round"/>
<path d="M202.0,276.0 L200.6,280.0 L198.0,277.4 Z" fill="#1e88d0"/>
<path d="M208.0,285.0 L210.1,282.4" fill="none" stroke="#1e88d0" stroke-width="1.4" stroke-linejoin="round"/>
<path d="M212.0,280.0 L211.0,284.1 L208.2,281.8 Z" fill="#1e88d0"/>
<path d="M314.0,255.5 L304.0,255.5" fill="none" stroke="#1e88d0" stroke-width="1.4" stroke-linejoin="round"/>
<path d="M301.0,255.5 L304.8,253.7 L304.8,257.3 Z" fill="#1e88d0"/>
<path d="M303.0,298.0 L303.0,306.0" fill="none" stroke="#1e88d0" stroke-width="1.4" stroke-linejoin="round"/>
<path d="M303.0,309.0 L301.2,305.2 L304.8,305.2 Z" fill="#1e88d0"/>
<path d="M194.9,269 L192.8,273.5 L197,273.5 Z" fill="#d8182b"/>
<path d="M194.3,228.5 L192.2,224 L196.4,224 Z" fill="#d8182b"/>
<path d="M285,267 L301,273 L300.5,290" fill="none" stroke="#2a303c" stroke-width="2"/>
<path d="M284.4,207.9 L298,211.6 L299.3,219" fill="none" stroke="#2a303c" stroke-width="2"/>
<path d="M286.9,217.8 L305.5,219" fill="none" stroke="#2a303c" stroke-width="1.8"/>
<rect x="276" y="301" width="4" height="9" fill="#5a6272" stroke="#2a303c" stroke-width="0.8"/>
<path d="M300.0,272.0 L300.0,292.0" fill="none" stroke="#1e88d0" stroke-width="1.4" stroke-linejoin="round"/>
<path d="M300.0,295.0 L298.2,291.2 L301.8,291.2 Z" fill="#1e88d0"/>
<path d="M283.0,275.0 L286.2,279.5" fill="none" stroke="#1e88d0" stroke-width="1.4" stroke-linejoin="round"/>
<path d="M288.0,282.0 L284.3,280.0 L287.3,277.9 Z" fill="#1e88d0"/>
<path d="M278.0,288.0 L280.3,291.5" fill="none" stroke="#1e88d0" stroke-width="1.4" stroke-linejoin="round"/>
<path d="M282.0,294.0 L278.4,291.8 L281.4,289.8 Z" fill="#1e88d0"/>
<path d="M292.0,289.0 L294.3,292.5" fill="none" stroke="#1e88d0" stroke-width="1.4" stroke-linejoin="round"/>
<path d="M296.0,295.0 L292.4,292.8 L295.4,290.8 Z" fill="#1e88d0"/>
<path d="M267.0,300.0 L267.0,307.0" fill="none" stroke="#1e88d0" stroke-width="1.4" stroke-linejoin="round"/>
<path d="M267.0,310.0 L265.2,306.2 L268.8,306.2 Z" fill="#1e88d0"/>
<path d="M287.0,300.0 L287.0,305.0" fill="none" stroke="#1e88d0" stroke-width="1.4" stroke-linejoin="round"/>
<path d="M287.0,308.0 L285.2,304.2 L288.8,304.2 Z" fill="#1e88d0"/>
<path d="M282.5,198.0 L282.5,188.5" fill="none" stroke="#1e88d0" stroke-width="1.4" stroke-linejoin="round"/>
<path d="M282.5,185.5 L284.3,189.3 L280.7,189.3 Z" fill="#1e88d0"/>
<path d="M287.0,214.0 L287.0,207.0" fill="none" stroke="#1e88d0" stroke-width="1.4" stroke-linejoin="round"/>
<path d="M287.0,204.0 L288.8,207.8 L285.2,207.8 Z" fill="#1e88d0"/>
<path d="M295.6,210.0 L295.6,199.7" fill="none" stroke="#1e88d0" stroke-width="1.4" stroke-linejoin="round"/>
<path d="M295.6,196.7 L297.4,200.5 L293.8,200.5 Z" fill="#1e88d0"/>
<path d="M264.5,178.5 L264.5,182.0" fill="none" stroke="#1e88d0" stroke-width="1.4" stroke-linejoin="round"/>
<path d="M264.5,185.0 L262.7,181.2 L266.3,181.2 Z" fill="#1e88d0"/>
<path d="M289.0,212.0 L291.9,214.9" fill="none" stroke="#1e88d0" stroke-width="1.4" stroke-linejoin="round"/>
<path d="M294.0,217.0 L290.0,215.6 L292.6,213.0 Z" fill="#1e88d0"/>
<path d="M351.8,235.0 L351.8,195.2" fill="none" stroke="#f4d31f" stroke-width="1.2" stroke-linejoin="round"/>
<path d="M351.8,192.0 L353.8,196.0 L349.8,196.0 Z" fill="#f4d31f"/>
<path d="M355.6,238.0 L355.6,199.2" fill="none" stroke="#f4d31f" stroke-width="1.2" stroke-linejoin="round"/>
<path d="M355.6,196.0 L357.6,200.0 L353.6,200.0 Z" fill="#f4d31f"/>
<path d="M351.6,258.0 L351.6,289.8" fill="none" stroke="#f4d31f" stroke-width="1.2" stroke-linejoin="round"/>
<path d="M351.6,293.0 L349.6,289.0 L353.6,289.0 Z" fill="#f4d31f"/>
<path d="M355.6,258.0 L355.6,279.8" fill="none" stroke="#f4d31f" stroke-width="1.2" stroke-linejoin="round"/>
<path d="M355.6,283.0 L353.6,279.0 L357.6,279.0 Z" fill="#f4d31f"/>
<path d="M175.8,77.8 L200,101" fill="none" stroke="#1c2334" stroke-width="0.9"/>
<path d="M196.5,67.7 L254,67.7 L259,75.5" fill="none" stroke="#6d7380" stroke-width="0.9"/>
<path d="M382.7,69 L312.7,69 L293.7,93.8" fill="none" stroke="#6d7380" stroke-width="0.9"/>
<path d="M382.5,247.5 L424.5,271.3" fill="none" stroke="#3a404c" stroke-width="0.8"/>
<path d="M196,375 L225.7,405 L279.7,405 L279.7,398" fill="none" stroke="#6d7380" stroke-width="0.9"/>
<rect x="218.7" y="164.7" width="70" height="14" fill="#5f6777" stroke="#262d3b" stroke-width="0.9"/>
<rect x="225" y="165.7" width="57.3" height="12.6" fill="#dcdfe4" stroke="#262d3b" stroke-width="1.1"/>
<rect x="430.3" y="59.2" width="96.4" height="25.2" fill="#eef0f3" stroke="#4a5162" stroke-width="1"/>
<line x1="446" y1="62" x2="446" y2="68" stroke="#1e2536" stroke-width="1"/>
<path d="M443.8,67.3 L448.2,67.3 L446,71 Z" fill="#1e2536"/>
<rect x="434.5" y="72.4" width="23.2" height="3.8" fill="#f5d90f"/>
<rect x="434.5" y="76.2" width="23.2" height="4.1" fill="#a2a6ae"/>
<text x="132.9" y="69.6" font-family="Liberation Sans" font-weight="bold" font-size="9.9" fill="#1c2334" textLength="46" lengthAdjust="spacingAndGlyphs">SATURATED</text>
<text x="132.9" y="79.2" font-family="Liberation Sans" font-weight="bold" font-size="9.9" fill="#1c2334" textLength="27" lengthAdjust="spacingAndGlyphs">STEAM</text>
<text x="196.7" y="65.7" font-family="Liberation Sans" font-weight="bold" font-size="9.9" fill="#1c2334" textLength="53.3" lengthAdjust="spacingAndGlyphs">STEAM DRUM</text>
<text x="322" y="66.4" font-family="Liberation Sans" font-weight="bold" font-size="9.9" fill="#1c2334" textLength="56.7" lengthAdjust="spacingAndGlyphs">SUPERHEATER</text>
<text x="463.9" y="71.8" font-family="Liberation Sans" font-weight="bold" font-size="9.9" fill="#1c2334" textLength="51" lengthAdjust="spacingAndGlyphs">SUPERHATED</text>
<text x="463.9" y="81.0" font-family="Liberation Sans" font-weight="bold" font-size="9.9" fill="#1c2334" textLength="58.3" lengthAdjust="spacingAndGlyphs">STEAM OUTLET</text>
<text x="432.5" y="122" font-family="Liberation Sans" font-weight="bold" font-size="9.9" fill="#1c2334" textLength="56.7" lengthAdjust="spacingAndGlyphs">HOT FLUE GAS</text>
<text x="441" y="187.9" font-family="Liberation Sans" font-weight="bold" font-size="9.9" fill="#1c2334" textLength="65" lengthAdjust="spacingAndGlyphs">WARM FLUE GAS</text>
<text x="435.6" y="241.2" font-family="Liberation Sans" font-weight="bold" font-size="9.9" fill="#1c2334" textLength="52.4" lengthAdjust="spacingAndGlyphs">ECONOMIZER</text>
<text x="425.7" y="274.4" font-family="Liberation Sans" font-weight="bold" font-size="9.9" fill="#1c2334" textLength="99.6" lengthAdjust="spacingAndGlyphs">LOW-TEMPERATUIE ZONE</text>
<text x="440.1" y="305.4" font-family="Liberation Sans" font-weight="bold" font-size="9.9" fill="#1c2334" textLength="65.4" lengthAdjust="spacingAndGlyphs">PREFHEEDVATER</text>
<text x="440.1" y="314.2" font-family="Liberation Sans" font-weight="bold" font-size="9.9" fill="#1c2334" textLength="25.2" lengthAdjust="spacingAndGlyphs">TUBES</text>
<text x="113" y="304.0" font-family="Liberation Sans" font-weight="bold" font-size="9.9" fill="#1c2334" textLength="34.5" lengthAdjust="spacingAndGlyphs">R WALLS</text>
<text x="113" y="312.9" font-family="Liberation Sans" font-weight="bold" font-size="9.9" fill="#1c2334" textLength="25" lengthAdjust="spacingAndGlyphs">TUBES</text>
<text x="237" y="415.4" font-family="Liberation Sans" font-weight="bold" font-size="9.9" fill="#1c2334" textLength="44" lengthAdjust="spacingAndGlyphs">MUD DRUM</text>
<text x="235.7" y="174.7" font-family="Liberation Sans" font-weight="bold" font-size="9.9" fill="#1c2334" stroke="#1c2334" stroke-width="0.3" textLength="36.6" lengthAdjust="spacingAndGlyphs">FURNACE</text>
<text x="538" y="57" font-family="Liberation Sans" font-weight="bold" font-size="9" fill="#f3f4f6" textLength="70" lengthAdjust="spacingAndGlyphs">nd Economizer</text>
<text x="538" y="73" font-family="Liberation Sans" font-weight="bold" font-size="9" fill="#f3f4f6" textLength="70" lengthAdjust="spacingAndGlyphs">s the Economiz</text>
<text x="538" y="88" font-family="Liberation Sans" font-weight="bold" font-size="9" fill="#f3f4f6">s</text>
<circle cx="580" cy="418.7" r="4" fill="#ececf8"/><circle cx="593.7" cy="418.7" r="4" fill="#ececf8"/>
</svg>
</body></html>
